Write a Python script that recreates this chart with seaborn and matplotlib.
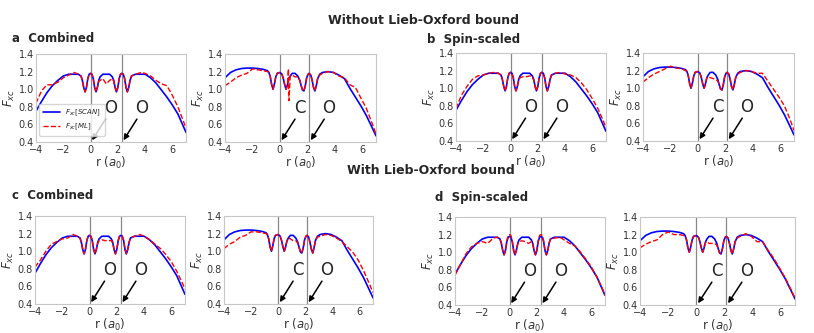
import matplotlib.pyplot as plt
import seaborn as sns

# grid and values for the O-O system (left panels)
r_oo = [-4.0, -3.6, -3.2, -2.8, -2.4, -2.0, -1.6, -1.2, -0.9, -0.7,
        -0.6, -0.5, -0.4, -0.3, -0.2, -0.1, 0.0, 0.1, 0.2, 0.3,
        0.4, 0.5, 0.6, 0.7, 0.9, 1.15, 1.4, 1.6, 1.7, 1.8,
        1.9, 2.0, 2.1, 2.2, 2.3, 2.4, 2.5, 2.6, 2.7, 2.8,
        2.9, 3.0, 3.3, 3.7, 4.0, 4.4, 4.8, 5.2, 5.6, 6.0,
        6.4, 6.8, 7.0]
scan_oo = [0.75, 0.86, 0.96, 1.04, 1.10, 1.15, 1.17, 1.17, 1.17, 1.15,
           1.10, 1.02, 0.97, 1.02, 1.12, 1.17, 1.18, 1.17, 1.12, 1.02,
           0.97, 1.02, 1.10, 1.14, 1.17, 1.17, 1.17, 1.14, 1.10, 1.02,
           0.97, 1.02, 1.12, 1.17, 1.18, 1.17, 1.12, 1.02, 0.97, 1.02,
           1.10, 1.15, 1.17, 1.17, 1.17, 1.13, 1.07, 0.99, 0.91, 0.82,
           0.72, 0.58, 0.51]
ml_a_oo = [0.84, 0.98, 1.05, 1.05, 1.08, 1.13, 1.16, 1.19, 1.17, 1.15,
           1.10, 1.02, 0.97, 1.02, 1.12, 1.17, 1.18, 1.17, 1.12, 1.02,
           0.97, 1.02, 1.09, 1.10, 1.12, 1.06, 1.10, 1.12, 1.09, 1.02,
           0.97, 1.02, 1.12, 1.17, 1.18, 1.17, 1.12, 1.02, 0.97, 1.02,
           1.10, 1.15, 1.17, 1.19, 1.18, 1.15, 1.10, 1.06, 1.04, 0.93,
           0.80, 0.64, 0.56]
ml_b_oo = [0.77, 0.92, 1.02, 1.10, 1.14, 1.15, 1.17, 1.18, 1.17, 1.15,
           1.10, 1.02, 0.97, 1.02, 1.12, 1.17, 1.18, 1.17, 1.12, 1.02,
           0.97, 1.02, 1.09, 1.12, 1.13, 1.13, 1.14, 1.13, 1.09, 1.02,
           0.97, 1.02, 1.12, 1.17, 1.18, 1.17, 1.12, 1.02, 0.97, 1.02,
           1.10, 1.15, 1.17, 1.18, 1.16, 1.15, 1.12, 1.06, 0.98, 0.88,
           0.77, 0.63, 0.55]
ml_c_oo = [0.82, 0.90, 1.00, 1.08, 1.11, 1.14, 1.15, 1.19, 1.17, 1.15,
           1.10, 1.02, 0.97, 1.02, 1.12, 1.17, 1.18, 1.17, 1.12, 1.02,
           0.97, 1.02, 1.09, 1.12, 1.13, 1.12, 1.12, 1.12, 1.09, 1.02,
           0.97, 1.02, 1.12, 1.17, 1.18, 1.17, 1.12, 1.02, 0.97, 1.02,
           1.10, 1.15, 1.17, 1.19, 1.17, 1.13, 1.08, 1.03, 0.96, 0.88,
           0.77, 0.64, 0.57]
ml_d_oo = [0.74, 0.86, 0.98, 1.06, 1.10, 1.12, 1.10, 1.16, 1.17, 1.15,
           1.10, 1.02, 0.97, 1.02, 1.13, 1.19, 1.20, 1.19, 1.13, 1.02,
           0.97, 1.02, 1.09, 1.12, 1.13, 1.12, 1.10, 1.12, 1.09, 1.02,
           0.97, 1.02, 1.13, 1.19, 1.20, 1.19, 1.13, 1.02, 0.97, 1.02,
           1.10, 1.15, 1.16, 1.17, 1.14, 1.10, 1.07, 1.00, 0.92, 0.83,
           0.72, 0.59, 0.51]

# grid and values for the C-O system (right panels)
r_co = [-4.0, -3.6, -3.2, -2.8, -2.4, -2.0, -1.6, -1.2, -0.9, -0.8,
        -0.7, -0.6, -0.5, -0.4, -0.3, -0.2, 0.0, 0.15, 0.25, 0.35,
        0.45, 0.55, 0.62, 0.66, 0.75, 0.9, 1.1, 1.3, 1.45, 1.55,
        1.65, 1.75, 1.85, 1.95, 2.05, 2.13, 2.25, 2.35, 2.45, 2.55,
        2.65, 2.75, 2.9, 3.1, 3.5, 3.9, 4.3, 4.7, 5.1, 5.5,
        5.9, 6.3, 6.7, 7.0]
scan_co = [1.13, 1.19, 1.22, 1.235, 1.24, 1.24, 1.235, 1.225, 1.21, 1.19,
           1.14, 1.05, 1.00, 1.06, 1.14, 1.18, 1.19, 1.17, 1.12, 1.05,
           1.00, 1.05, 1.10, 1.12, 1.15, 1.18, 1.18, 1.15, 1.10, 1.04,
           0.99, 0.98, 1.04, 1.13, 1.17, 1.18, 1.16, 1.10, 1.02, 0.98,
           1.04, 1.12, 1.17, 1.19, 1.20, 1.19, 1.16, 1.12, 1.01, 0.91,
           0.81, 0.70, 0.57, 0.47]
ml_a_co = [1.04, 1.08, 1.13, 1.16, 1.18, 1.23, 1.22, 1.21, 1.20, 1.19,
           1.14, 1.05, 1.00, 1.06, 1.14, 1.18, 1.19, 1.17, 1.12, 1.05,
           1.00, 1.05, 1.23, 0.87, 1.15, 1.16, 1.14, 1.14, 1.10, 1.04,
           0.99, 0.98, 1.04, 1.13, 1.17, 1.18, 1.16, 1.10, 1.02, 0.98,
           1.04, 1.12, 1.16, 1.18, 1.20, 1.19, 1.15, 1.13, 1.05, 1.02,
           0.90, 0.78, 0.62, 0.49]
ml_b_co = [1.07, 1.12, 1.16, 1.19, 1.22, 1.25, 1.23, 1.22, 1.20, 1.19,
           1.14, 1.05, 1.00, 1.06, 1.14, 1.18, 1.19, 1.17, 1.12, 1.05,
           1.00, 1.05, 1.10, 1.12, 1.13, 1.12, 1.11, 1.10, 1.08, 1.04,
           0.99, 0.98, 1.04, 1.13, 1.17, 1.18, 1.16, 1.10, 1.02, 0.98,
           1.04, 1.12, 1.16, 1.18, 1.20, 1.19, 1.17, 1.17, 1.08, 0.99,
           0.90, 0.80, 0.65, 0.52]
ml_c_co = [1.03, 1.08, 1.11, 1.16, 1.18, 1.22, 1.22, 1.21, 1.20, 1.19,
           1.14, 1.05, 1.00, 1.06, 1.14, 1.18, 1.19, 1.17, 1.12, 1.05,
           1.00, 1.05, 1.10, 1.12, 1.15, 1.14, 1.12, 1.12, 1.09, 1.04,
           0.99, 0.98, 1.04, 1.13, 1.17, 1.18, 1.16, 1.10, 1.02, 0.98,
           1.04, 1.12, 1.16, 1.17, 1.19, 1.18, 1.15, 1.11, 1.05, 0.99,
           0.90, 0.78, 0.64, 0.53]
ml_d_co = [1.05, 1.09, 1.12, 1.14, 1.20, 1.23, 1.20, 1.20, 1.19, 1.18,
           1.14, 1.05, 1.00, 1.06, 1.14, 1.18, 1.19, 1.17, 1.12, 1.05,
           1.00, 1.05, 1.10, 1.11, 1.12, 1.10, 1.10, 1.10, 1.08, 1.04,
           0.99, 0.98, 1.04, 1.13, 1.17, 1.18, 1.16, 1.10, 1.02, 0.98,
           1.04, 1.12, 1.16, 1.18, 1.21, 1.18, 1.12, 1.12, 1.02, 0.93,
           0.82, 0.71, 0.58, 0.48]

atoms_oo = [0.0, 2.3]
names_oo = ["O", "O"]
atoms_co = [0.0, 2.13]
names_co = ["C", "O"]

x_ticks = [-4, -2, 0, 2, 4, 6]
y_ticks = [0.4, 0.6, 0.8, 1.0, 1.2, 1.4]

sns.set_style("white", {"axes.edgecolor": ".78"})

W, H = 814, 333
fig = plt.figure(figsize=(W / 100, H / 100), dpi=100)


def make_ax(left, top, right, bottom):
    return fig.add_axes([left / W, 1 - bottom / H, (right - left) / W, (bottom - top) / H])


def panel(ax, r, scan, ml, atoms, names, legend=False):
    if legend:
        sns.lineplot(x=r, y=scan, ax=ax, color="blue", lw=1.2, label="$F_{xc}[SCAN]$")
        sns.lineplot(x=r, y=ml, ax=ax, color="red", lw=1.0, linestyle="--", label="$F_{xc}[ML]$")
        ax.legend(loc="lower left", fontsize=5, frameon=True, borderpad=0.5,
                  handlelength=2.4, labelspacing=0.6, bbox_to_anchor=(0.0, 0.03))
    else:
        sns.lineplot(x=r, y=scan, ax=ax, color="blue", lw=1.2)
        sns.lineplot(x=r, y=ml, ax=ax, color="red", lw=1.0, linestyle="--")
    for a, n in zip(atoms, names):
        ax.axvline(a, color="#888888", lw=0.9, zorder=0)
        ax.text(a + 1.45, 0.79, n, fontsize=12, ha="center", va="center")
        ax.annotate("", xy=(a + 0.12, 0.42), xytext=(a + 1.1, 0.66),
                    arrowprops=dict(arrowstyle="-|>", color="black", lw=1.1,
                                    mutation_scale=8, shrinkA=0, shrinkB=0))
    ax.set_xlim(-4, 7)
    ax.set_ylim(0.4, 1.4)
    ax.set_xticks(x_ticks)
    ax.set_yticks(y_ticks)
    ax.set_xticklabels([str(t).replace("-", "\u2212") for t in x_ticks])
    ax.set_yticklabels([f"{t:.1f}" for t in y_ticks])
    ax.tick_params(labelsize=7, length=0, colors="#333333")
    ax.tick_params(axis="x", pad=2)
    ax.tick_params(axis="y", pad=1.5)
    ax.set_xlabel("r ($a_0$)", fontsize=8.5, labelpad=0, color="#333333")
    ax.set_ylabel("$F_{xc}$", fontsize=8.5, labelpad=1, color="#333333")


panel(make_ax(36, 54, 186, 142), r_oo, scan_oo, ml_a_oo, atoms_oo, names_oo, legend=True)
panel(make_ax(225, 54, 376, 142), r_co, scan_co, ml_a_co, atoms_co, names_co)
panel(make_ax(456, 53, 606, 141), r_oo, scan_oo, ml_b_oo, atoms_oo, names_oo)
panel(make_ax(643, 53, 794, 141), r_co, scan_co, ml_b_co, atoms_co, names_co)
panel(make_ax(35, 216, 185, 304), r_oo, scan_oo, ml_c_oo, atoms_oo, names_oo)
panel(make_ax(224, 216, 373, 304), r_co, scan_co, ml_c_co, atoms_co, names_co)
panel(make_ax(455, 217, 605, 305), r_oo, scan_oo, ml_d_oo, atoms_oo, names_oo)
panel(make_ax(640, 217, 795, 305), r_co, scan_co, ml_d_co, atoms_co, names_co)

fig.text(424 / W, 1 - 21 / H, "Without Lieb-Oxford bound", fontsize=9, fontweight="bold",
         ha="center", va="center")
fig.text(431 / W, 1 - 170 / H, "With Lieb-Oxford bound", fontsize=9, fontweight="bold",
         ha="center", va="center")
fig.text(12 / W, 1 - 39 / H, "a  Combined", fontsize=8.5, fontweight="bold", va="center")
fig.text(427 / W, 1 - 40 / H, "b  Spin-scaled", fontsize=8.5, fontweight="bold", va="center")
fig.text(12 / W, 1 - 196 / H, "c  Combined", fontsize=8.5, fontweight="bold", va="center")
fig.text(435 / W, 1 - 197 / H, "d  Spin-scaled", fontsize=8.5, fontweight="bold", va="center")

fig.savefig("out.png", dpi=100)
